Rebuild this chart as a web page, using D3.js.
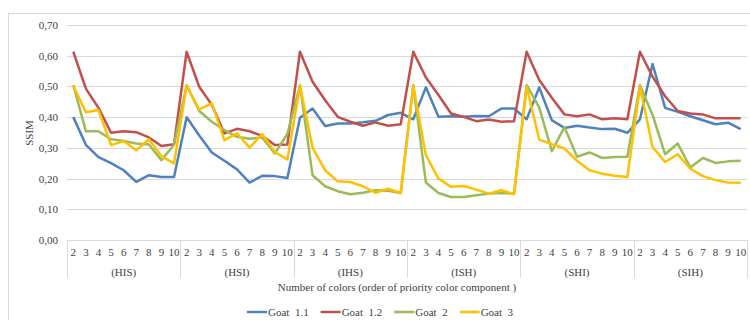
<!DOCTYPE html>
<html><head><meta charset="utf-8">
<script src="https://cdn.jsdelivr.net/npm/d3@7/dist/d3.min.js"></script>
<style>body{margin:0;background:#fff}svg{display:block;font-family:"Liberation Serif","Times New Roman",serif}</style>
</head><body><svg id="c" width="750" height="320"></svg>
<script>
const groups = ["(HIS)","(HSI)","(IHS)","(ISH)","(SHI)","(SIH)"];
const colorCounts = ["2","3","4","5","6","7","8","9","10"];
const seriesNames = ["Goat  1.1","Goat  1.2","Goat  2","Goat  3"];
const goat11 = [
  0.40,0.31,0.27,0.25,0.227,0.189,0.211,0.205,0.205,
  0.40,0.34,0.285,0.258,0.23,0.187,0.209,0.208,0.202,
  0.398,0.428,0.371,0.379,0.379,0.383,0.388,0.407,0.414,
  0.393,0.497,0.401,0.403,0.401,0.404,0.403,0.428,0.428,
  0.393,0.497,0.39,0.365,0.372,0.366,0.361,0.362,0.349,
  0.393,0.573,0.43,0.417,0.403,0.39,0.377,0.382,0.361];
const goat12 = [
  0.613,0.493,0.43,0.349,0.354,0.351,0.334,0.306,0.312,
  0.613,0.499,0.44,0.347,0.362,0.354,0.339,0.309,0.311,
  0.613,0.515,0.455,0.401,0.385,0.372,0.383,0.372,0.377,
  0.613,0.529,0.472,0.412,0.401,0.387,0.392,0.385,0.387,
  0.613,0.521,0.463,0.409,0.403,0.409,0.393,0.396,0.393,
  0.613,0.532,0.468,0.42,0.412,0.409,0.396,0.396,0.396];
const goat2 = [
  0.504,0.354,0.354,0.328,0.322,0.314,0.311,0.26,0.31,
  0.504,0.42,0.385,0.358,0.336,0.33,0.334,0.282,0.345,
  0.504,0.211,0.175,0.159,0.149,0.154,0.162,0.16,0.153,
  0.504,0.187,0.153,0.14,0.14,0.146,0.151,0.153,0.151,
  0.504,0.432,0.289,0.368,0.271,0.285,0.267,0.27,0.271,
  0.504,0.407,0.279,0.314,0.236,0.267,0.251,0.256,0.258];
const goat3 = [
  0.502,0.416,0.423,0.309,0.322,0.292,0.328,0.273,0.249,
  0.502,0.425,0.445,0.325,0.347,0.301,0.345,0.287,0.262,
  0.502,0.301,0.227,0.191,0.189,0.175,0.154,0.167,0.153,
  0.502,0.276,0.20,0.173,0.176,0.164,0.151,0.162,0.149,
  0.499,0.327,0.312,0.298,0.258,0.227,0.216,0.209,0.205,
  0.499,0.303,0.254,0.279,0.232,0.208,0.195,0.187,0.186];
const yTickValues = [0,0.1,0.2,0.3,0.4,0.5,0.6,0.7];
const yTickLabels = ["0,00","0,10","0,20","0,30","0,40","0,50","0,60","0,70"];
const colors = ["#4F81BD","#C0504D","#9BBB59","#FFC000"];

const svg = d3.select("#c");
const L=67, R=747, T=25, B=240;
svg.append("rect").attr("x",8.5).attr("y",13.5).attr("width",760).attr("height",330)
  .attr("fill","none").attr("stroke","#d9d9d9");

const keys = [];
groups.forEach(g=>colorCounts.forEach(c=>keys.push(g+"|"+c)));
const x = d3.scaleBand().domain(keys).range([L,R]);
const y = d3.scaleLinear().domain([0,0.7]).range([B,T]);

svg.append("g").selectAll("line").data(yTickValues).join("line")
  .attr("x1",L).attr("x2",R).attr("y1",d=>Math.round(y(d))+0.5).attr("y2",d=>Math.round(y(d))+0.5)
  .attr("stroke","#d9d9d9").attr("stroke-width",1);
svg.append("g").selectAll("text").data(yTickValues).join("text")
  .attr("x",58).attr("y",d=>y(d)+4).attr("text-anchor","end")
  .attr("font-size",11).attr("fill","#404040").text((d,i)=>yTickLabels[i]);
svg.append("text").attr("transform","translate(33,133) rotate(-90)").attr("text-anchor","middle")
  .attr("font-size",11).attr("fill","#404040").text("SSIM");

svg.append("g").selectAll("text").data(keys).join("text")
  .attr("x",d=>x(d)+x.bandwidth()/2).attr("y",256).attr("text-anchor","middle")
  .attr("font-size",11).attr("fill","#404040").text(d=>d.split("|")[1]);
const gw = (R-L)/groups.length;
const seps = d3.range(groups.length+1).map(i=>x(keys[Math.min(i*9,keys.length-1)]) + (i===groups.length?x.bandwidth():0));
svg.append("g").selectAll("line").data(seps).join("line")
  .attr("x1",d=>Math.round(d)+0.5).attr("x2",d=>Math.round(d)+0.5).attr("y1",B).attr("y2",278)
  .attr("stroke","#d9d9d9");
svg.append("g").selectAll("text").data(groups).join("text")
  .attr("x",(d,i)=>x(d+"|2")+gw/2).attr("y",276).attr("text-anchor","middle")
  .attr("font-size",11).attr("fill","#404040").text(d=>d);
svg.append("text").attr("x",397).attr("y",291).attr("text-anchor","middle")
  .attr("font-size",11).attr("fill","#404040").text("Number of colors (order of priority color component )");

const all = [goat11,goat12,goat2,goat3];
const line = d3.line().x((d,i)=>x(keys[i])+x.bandwidth()/2).y(d=>y(d));
all.forEach((s,k)=>{
  svg.append("path").datum(s).attr("d",line).attr("fill","none")
    .attr("stroke",colors[k]).attr("stroke-width",2.5).attr("stroke-linejoin","round");
});

let lx = 247;
const lg = svg.append("g");
seriesNames.forEach((n,k)=>{
  lg.append("line").attr("x1",lx).attr("x2",lx+20).attr("y1",312).attr("y2",312)
    .attr("stroke",colors[k]).attr("stroke-width",2.5);
  const t = lg.append("text").attr("x",lx+21).attr("y",316).attr("font-size",11)
    .attr("fill","#404040").attr("xml:space","preserve").style("white-space","pre").text(n);
  lx += 20 + t.node().getComputedTextLength() + 13;
});
</script></body></html>
